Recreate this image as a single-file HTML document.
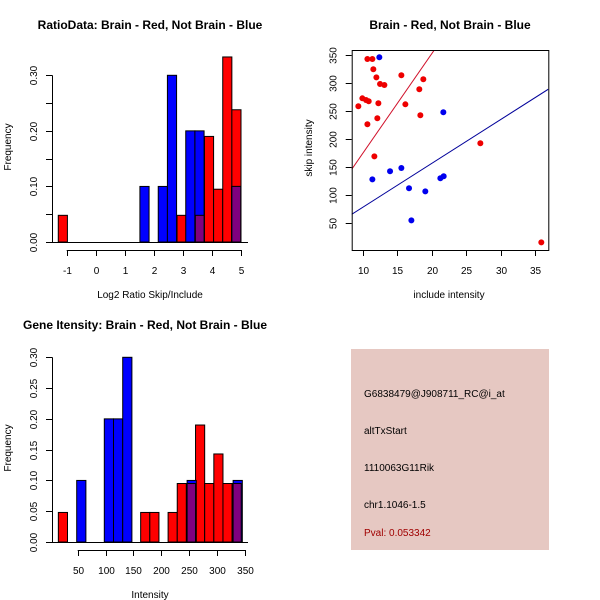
<!DOCTYPE html>
<html><head><meta charset="utf-8"><style>
body{margin:0;background:#fff;}
svg{display:block;font-family:"Liberation Sans",sans-serif;}
</style></head><body>
<svg id="c" width="600" height="600" viewBox="0 0 600 600">
<rect x="0" y="0" width="600" height="600" fill="#fff"/>
<text x="150" y="29" font-size="12" font-weight="bold" text-anchor="middle">RatioData: Brain - Red, Not Brain - Blue</text>
<text x="450" y="29" font-size="12" font-weight="bold" text-anchor="middle">Brain - Red, Not Brain - Blue</text>
<text x="145" y="329" font-size="12" font-weight="bold" text-anchor="middle">Gene Itensity: Brain - Red, Not Brain - Blue</text>
<text x="150" y="298" font-size="10" text-anchor="middle">Log2 Ratio Skip/Include</text>
<text x="0" y="0" font-size="10" text-anchor="middle" transform="translate(11,147) rotate(-90)">Frequency</text>
<text x="449" y="298" font-size="10" text-anchor="middle">include intensity</text>
<text x="0" y="0" font-size="10" text-anchor="middle" transform="translate(312,148) rotate(-90)">skip intensity</text>
<text x="150" y="598" font-size="10" text-anchor="middle">Intensity</text>
<text x="0" y="0" font-size="10" text-anchor="middle" transform="translate(11,448) rotate(-90)">Frequency</text>
<g>
<rect x="351" y="349" width="198" height="201" fill="#e6c8c2"/>
<text x="364" y="397" font-size="10">G6838479@J908711_RC@i_at</text>
<text x="364" y="434" font-size="10">altTxStart</text>
<text x="364" y="471" font-size="10">1110063G11Rik</text>
<text x="364" y="508" font-size="10">chr1.1046-1.5</text>
<text x="364" y="536" font-size="10" fill="#a00000">Pval: 0.053342</text>
</g>
<g id="g1"></g>
<g id="g2"></g>
<g id="g3"></g>
</svg>
<script>
// Ratio histogram data
const ratioRedStart = -1.29, ratioRedWidth = 0.3145;
const ratioRedFreq = [0.048,0,0,0,0,0,0,0,0,0,0,0,0,0.048,0,0.048,0.19,0.095,0.333,0.238];
const ratioBlueStart = 1.52, ratioBlueWidth = 0.3156;
const ratioBlueFreq = [0.1,0,0.1,0.3,0,0.2,0.2,0,0,0,0.1];
const ratioXTicks = [-1,0,1,2,3,4,5];
const ratioYTicks = [0,0.05,0.1,0.15,0.2,0.25,0.3];
const ratioYLabels = ["0.00","","0.10","","0.20","","0.30"];
// Scatter data
const redInclude = [9.37,10.68,11.40,11.54,11.98,12.51,13.14,9.95,10.48,10.87,12.27,12.12,10.68,15.60,18.78,18.20,16.18,18.35,11.69,27.04,35.87];
const redSkip = [258.6,342.9,342.9,324.5,310.2,298.4,296.6,272.8,269.8,267.5,263.9,237.2,226.5,313.8,306.7,288.9,262.1,242.5,169.4,192.6,16.1];
const blueInclude = [12.41,21.68,11.40,13.96,15.60,16.71,19.07,21.25,21.73,17.05];
const blueSkip = [345.9,247.9,128.4,142.7,148.6,112.4,107.0,130.2,133.8,55.3];
const redFit = [-3.1,17.77];   // intercept, slope
const blueFit = [0.2,7.83];
const scatterXTicks = [10,15,20,25,30,35];
const scatterYTicks = [50,100,150,200,250,300,350];
// Intensity histogram data
const intRedStart = 15.3, intRedWidth = 16.4;
const intRedFreq = [0.048,0,0,0,0,0,0,0,0,0.048,0.048,0,0.048,0.095,0.095,0.19,0.095,0.143,0.095,0.095];
const intBlueStart = 48.2, intBlueWidth = 16.5;
const intBlueFreq = [0.1,0,0,0.2,0.2,0.3,0,0,0,0,0,0,0.1,0,0,0,0,0.1];
const intXTicks = [50,100,150,200,250,300,350];
const intYTicks = [0,0.05,0.1,0.15,0.2,0.25,0.3];
const intYLabels = ["0.00","0.05","0.10","0.15","0.20","0.25","0.30"];

const NS="http://www.w3.org/2000/svg";
function mk(parent,tag,attrs,text){const e=document.createElementNS(NS,tag);for(const k in attrs)e.setAttribute(k,attrs[k]);if(text!==undefined)e.textContent=text;parent.appendChild(e);return e;}
function lin(d0,d1,p0,p1){return v=>p0+(v-d0)*(p1-p0)/(d1-d0);}

function histogram(g,xs,ys,rs,rw,rf,bs,bw,bf,xt,yt,yl,plotL,plotR,axisY){
  rf.forEach((f,i)=>{ if(f<=0)return;
    const x0=xs(rs+i*rw),x1=xs(rs+(i+1)*rw);
    const r=mk(g,'rect',{x:x0,y:ys(f),width:x1-x0,height:ys(0)-ys(f),fill:'#ff0000',stroke:'#000','stroke-width':1});
    
    
  });
  bf.forEach((f,i)=>{ if(f<=0)return;
    const x0=xs(bs+i*bw),x1=xs(bs+(i+1)*bw);
    const r=mk(g,'rect',{x:x0,y:ys(f),width:x1-x0,height:ys(0)-ys(f),fill:'#0000ff',stroke:'#000','stroke-width':1});
    
    
    rf.forEach((g2,j)=>{ if(g2<=0)return;
      const a0=rs+j*rw,a1=rs+(j+1)*rw,b0=bs+i*bw,b1=bs+(i+1)*bw;
      const o0=Math.max(a0,b0),o1=Math.min(a1,b1);
      if(o1-o0>rw*0.5){const h=Math.min(f,g2);
        const p=mk(g,'rect',{x:xs(o0),y:ys(h),width:xs(o1)-xs(o0),height:ys(0)-ys(h),fill:'#80007f',stroke:'#000','stroke-width':1});
        
        
      }
    });
  });
  mk(g,'line',{x1:plotL,x2:plotR,y1:ys(0)+0.5,y2:ys(0)+0.5,stroke:'#000'});
  mk(g,'line',{x1:plotL+0.5,x2:plotL+0.5,y1:ys(yt[0]),y2:ys(yt[yt.length-1]),stroke:'#000'});
  yt.forEach((v,i)=>{const y=Math.round(ys(v))+0.5;mk(g,'line',{x1:plotL-6,x2:plotL,y1:y,y2:y,stroke:'#000'});
    if(yl[i]){const t=mk(g,'text',{x:0,y:0,'font-size':10,'text-anchor':'middle',transform:`translate(${plotL-15},${y}) rotate(-90)`},yl[i]);
    
    }
  });
  mk(g,'line',{x1:xs(xt[0]),x2:xs(xt[xt.length-1]),y1:axisY+0.5,y2:axisY+0.5,stroke:'#000'});
  xt.forEach(v=>{const x=Math.round(xs(v))+0.5;mk(g,'line',{x1:x,x2:x,y1:axisY,y2:axisY+6,stroke:'#000'});
    const t=mk(g,'text',{x:x,y:axisY+24,'font-size':10,'text-anchor':'middle'},String(v));
    
    
  });
}

{const g=document.getElementById('g1');
 const xs=lin(-1,5,66.7,241),ys=lin(0,0.3,242,75.3);
 histogram(g,xs,ys,ratioRedStart,ratioRedWidth,ratioRedFreq,ratioBlueStart,ratioBlueWidth,ratioBlueFreq,ratioXTicks,ratioYTicks,ratioYLabels,52,248,250);}
{const g=document.getElementById('g3');
 const xs=lin(50,350,77.7,245),ys=lin(0,0.3,542,357.3);
 histogram(g,xs,ys,intRedStart,intRedWidth,intRedFreq,intBlueStart,intBlueWidth,intBlueFreq,intXTicks,intYTicks,intYLabels,52,248,550);}
{const g=document.getElementById('g2');
 const L=351.7,R=548.3,T=50,B=250;
 const xs=lin(10,35,362.7,535.3),ys=lin(50,350,223.3,55);
 const cp=mk(g,'clipPath',{id:'sc'});mk(cp,'rect',{x:L,y:T,width:R-L,height:B-T});
 const x0=(L-362.7)/6.904+10,x1=(R-362.7)/6.904+10;
 [[redFit,'#d0102a','red-fit-line'],[blueFit,'#00009a','blue-fit-line']].forEach(([f,c,n])=>{
   const l=mk(g,'line',{x1:xs(x0),y1:ys(f[0]+f[1]*x0),x2:xs(x1),y2:ys(f[0]+f[1]*x1),stroke:c,'stroke-width':1,'clip-path':'url(#sc)'});
   
   
 });
 redInclude.forEach((v,i)=>{const c=mk(g,'circle',{cx:xs(v),cy:ys(redSkip[i]),r:3,fill:'#ee0000'});
   
   });
 blueInclude.forEach((v,i)=>{const c=mk(g,'circle',{cx:xs(v),cy:ys(blueSkip[i]),r:3,fill:'#0000ee'});
   
   });
 mk(g,'rect',{x:L+0.5,y:T+0.5,width:R-L,height:B-T,fill:'none',stroke:'#000'});
 scatterXTicks.forEach(v=>{const x=Math.round(xs(v))+0.5;mk(g,'line',{x1:x,x2:x,y1:B,y2:B+6,stroke:'#000'});
   const t=mk(g,'text',{x:x,y:B+24,'font-size':10,'text-anchor':'middle'},String(v));
   
   });
 scatterYTicks.forEach(v=>{const y=Math.round(ys(v))+0.5;mk(g,'line',{x1:L-6,x2:L,y1:y,y2:y,stroke:'#000'});
   const t=mk(g,'text',{x:0,y:0,'font-size':10,'text-anchor':'middle',transform:`translate(${L-15},${y}) rotate(-90)`},String(v));
   
   });
}
</script>
</body></html>
